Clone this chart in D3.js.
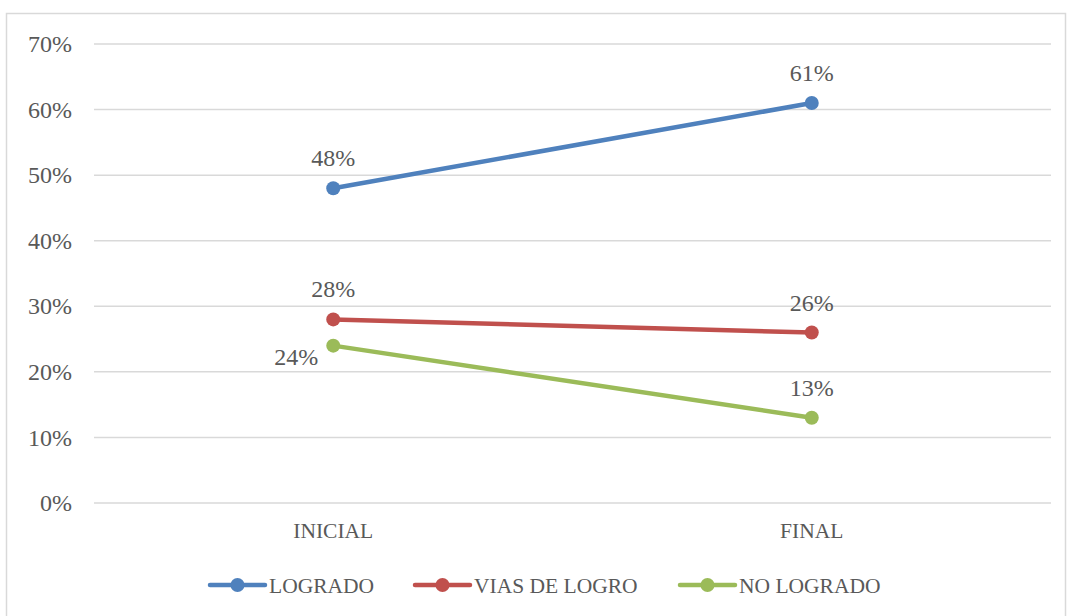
<!DOCTYPE html>
<html>
<head>
<meta charset="utf-8">
<script src="https://cdn.jsdelivr.net/npm/d3@7"></script>
<style>
body { margin: 0; background: #fff; }
text { font-family: "Liberation Serif", "DejaVu Serif", serif; fill: #595959; }
</style>
</head>
<body>
<svg id="chart"></svg>
<script>
// data
var categories = ["INICIAL", "FINAL"];
var seriesNames = ["LOGRADO", "VIAS DE LOGRO", "NO LOGRADO"];
var logrado = [0.48, 0.61];
var viasDeLogro = [0.28, 0.26];
var noLogrado = [0.24, 0.13];
var yTicks = [0, 0.1, 0.2, 0.3, 0.4, 0.5, 0.6, 0.7];
var colors = ["#4F81BD", "#C0504D", "#9BBB59"];

var W = 1067, H = 616;
var margin = {top: 44, right: 16, bottom: 113, left: 94},
    width = W - margin.left - margin.right,
    height = H - margin.top - margin.bottom;

var svgtop = d3.select("#chart")
	.attr("width", W)
	.attr("height", H);

//chart border
svgtop.append("rect")
	.attr("x", 6.5)
	.attr("y", 13.5)
	.attr("width", 1059)
	.attr("height", 620)
	.attr("fill", "none")
	.attr("stroke", "#D9D9D9")
	.attr("stroke-width", 1.5);

var svg = svgtop.append("g")
	.attr("transform", "translate(" + margin.left + "," + margin.top + ")");

var xScale = d3.scaleBand().domain(categories).range([0, width]);
var yScale = d3.scaleLinear().domain([0, 0.7]).range([height, 0]);

//gridlines
svg.selectAll(".grid")
	.data(yTicks)
	.enter()
	.append("line")
	.attr("class", "grid")
	.attr("x1", 0)
	.attr("x2", width)
	.attr("y1", function(d) { return yScale(d); })
	.attr("y2", function(d) { return yScale(d); })
	.attr("stroke", "#D9D9D9")
	.attr("stroke-width", 1.5);

//y axis
var yAxis = svg.append("g")
	.call(d3.axisLeft(yScale).tickValues(yTicks).tickFormat(d3.format(".0%")).tickSize(0).tickPadding(22));
yAxis.select(".domain").remove();
yAxis.selectAll("text").style("font-size", "24px").attr("fill", "#595959");

//x axis
var xAxis = svg.append("g")
	.attr("transform", "translate(0," + height + ")")
	.call(d3.axisBottom(xScale).tickSize(0).tickPadding(20));
xAxis.select(".domain").remove();
xAxis.selectAll("text").style("font-size", "21.5px").attr("fill", "#595959");

var series = [
	{name: seriesNames[0], values: logrado, color: colors[0]},
	{name: seriesNames[1], values: viasDeLogro, color: colors[1]},
	{name: seriesNames[2], values: noLogrado, color: colors[2]}
];

var cx = function(i) { return xScale(categories[i]) + xScale.bandwidth() / 2; };

var line = d3.line()
	.x(function(d, i) { return cx(i); })
	.y(function(d) { return yScale(d); });

series.forEach(function(s, k) {
	svg.append("path")
		.datum(s.values)
		.attr("fill", "none")
		.attr("stroke", s.color)
		.attr("stroke-width", 4.5)
		.attr("d", line);

	svg.selectAll(".pt" + k)
		.data(s.values)
		.enter()
		.append("circle")
		.attr("cx", function(d, i) { return cx(i); })
		.attr("cy", function(d) { return yScale(d); })
		.attr("r", 7)
		.attr("fill", s.color);

	//data labels
	svg.selectAll(".lbl" + k)
		.data(s.values)
		.enter()
		.append("text")
		.attr("x", function(d, i) { return (k == 2 && i == 0) ? cx(i) - 15 : cx(i); })
		.attr("y", function(d, i) { return (k == 2 && i == 0) ? yScale(d) + 19 : yScale(d) - 22; })
		.style("text-anchor", function(d, i) { return (k == 2 && i == 0) ? "end" : "middle"; })
		.style("font-size", "24px")
		.text(function(d) { return d3.format(".0%")(d); });
});

//legend
var legX = [210, 415, 680];
var legY = 585;
series.forEach(function(s, k) {
	var g = svgtop.append("g").attr("transform", "translate(" + legX[k] + "," + legY + ")");
	g.append("line")
		.attr("x1", 0).attr("x2", 55)
		.attr("stroke", s.color)
		.attr("stroke-width", 4.5)
		.attr("stroke-linecap", "round");
	g.append("circle")
		.attr("cx", 27.5)
		.attr("r", 7)
		.attr("fill", s.color);
	g.append("text")
		.attr("x", 59)
		.attr("dy", "0.35em")
		.style("font-size", "21.5px")
		.text(s.name);
});
</script>
</body>
</html>
